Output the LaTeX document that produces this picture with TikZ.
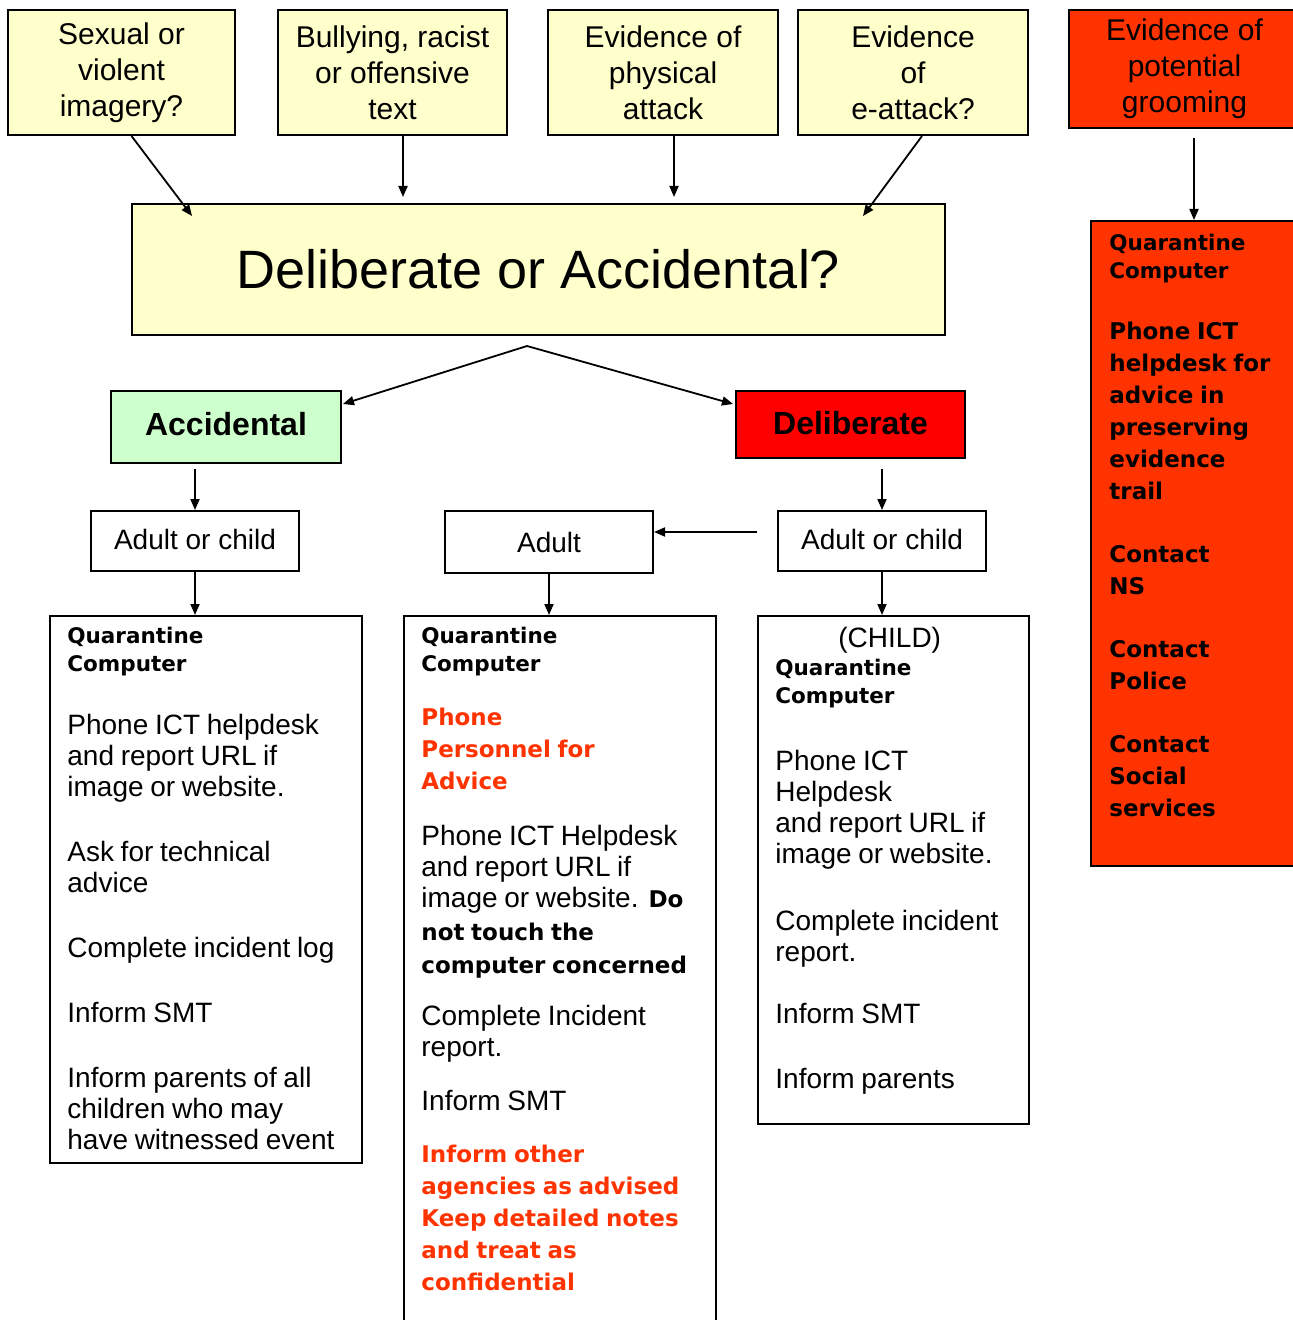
\documentclass[tikz,border=0pt]{standalone}
\usepackage{fontspec}
\setmainfont{Liberation Sans}
\newfontfamily\wide{DejaVu Sans}
\usetikzlibrary{positioning,calc}
\usetikzlibrary{arrows.meta}

\definecolor{paleyellow}{HTML}{FFFFCC}
\definecolor{palegreen}{HTML}{CCFFCC}
\definecolor{groomred}{HTML}{FF3300}
\definecolor{delred}{HTML}{FF0000}

\setlength{\parindent}{0pt}
% font switches for the lists
\newcommand{\qhead}{\wide\bfseries\fontsize{10.75}{14}\selectfont}
\newcommand{\bbody}{\wide\bfseries\fontsize{11.5}{16}\selectfont}
\newcommand{\rbody}{\normalfont\fontsize{14}{15.5}\selectfont}
\newcommand{\pgap}[1]{\par\vspace{#1}}

\tikzset{
   box/.style={draw, line width=1pt, rectangle, inner sep=0pt},
   qbox/.style={box, fill=paleyellow, align=center,
      font=\fontsize{15}{18}\selectfont},
   pick/.style={box, align=center, font=\rbody},
   list/.style={anchor=north west, inner sep=0pt, text width=200pt,
      align=left},
   arr/.style={-{Triangle[length=5.5pt,width=4.5pt]}, line width=0.9pt},
}

\begin{document}
\begin{tikzpicture}[x=0.5pt, y=-0.5pt]
   \useasboundingbox (0,0) rectangle (1293,1320);

   % what was found
   \node[qbox, minimum width=113.5pt, minimum height=62.5pt] (t1)
      at (121.5,72.5) {Sexual or\\violent\\imagery?};
   \node[qbox, minimum width=114.5pt, minimum height=62.5pt] (t2)
      at (392.5,72.5) {Bullying, racist\\or offensive\\text};
   \node[qbox, minimum width=115pt, minimum height=62.5pt] (t3)
      at (663,72.5) {Evidence of\\physical\\attack};
   \node[qbox, minimum width=115pt, minimum height=62.5pt] (t4)
      at (913,72.5) {Evidence\\of\\e-attack?};
   \node[qbox, fill=groomred, minimum width=115.5pt, minimum height=59pt] (t5)
      at (1184.5,69) {Evidence of\\potential\\grooming};

   % main question
   \node[box, fill=paleyellow, minimum width=406.5pt, minimum height=65.5pt,
      font=\fontsize{27}{30}\selectfont] (dq) at (538.5,269.5)
      {Deliberate or Accidental?};

   \node[box, fill=palegreen, minimum width=115pt, minimum height=36pt,
      font=\bfseries\fontsize{16}{18}\selectfont] (acc) at (226,427)
      {\raisebox{3pt}{Accidental}};
   \node[box, fill=delred, minimum width=114.5pt, minimum height=33.5pt,
      font=\bfseries\fontsize{16}{18}\selectfont] (del) at (850.5,424.5)
      {\raisebox{1.5pt}{Deliberate}};

   % who is involved
   \node[pick, minimum width=104pt, minimum height=30pt] (ac1) at (195,541)
      {\raisebox{1.5pt}{Adult or child}};
   \node[pick, minimum width=104pt, minimum height=31pt] (ad) at (549,542) {Adult};
   \node[pick, minimum width=104pt, minimum height=30pt] (ac2) at (882,541)
      {\raisebox{1.5pt}{Adult or child}};

   % what to do
   \node[box, minimum width=156pt, minimum height=273.5pt, anchor=north west]
      (bA) at (49,615) {};
   \node[box, minimum width=156pt, minimum height=357.5pt, anchor=north west]
      (bB) at (403,615) {};
   \node[box, minimum width=135.5pt, minimum height=254pt, anchor=north west]
      (bC) at (757,615) {};
   \node[box, fill=groomred, minimum width=105pt, minimum height=322.5pt,
      anchor=north west] (grb) at (1090,220) {};

   \node[list] (lA) at ([shift={(18,12)}]bA.north west) {%
      \qhead Quarantine\\Computer\pgap{16pt}
      \rbody Phone ICT helpdesk\\and report URL if\\image or website.\pgap{17pt}
      Ask for technical\\advice\pgap{17pt}
      Complete incident log\pgap{17pt}
      Inform SMT\pgap{17pt}
      Inform parents of all\\children who may\\have witnessed event\par};

   \node[list] (lB) at ([shift={(18,12)}]bB.north west) {%
      \qhead Quarantine\\Computer\pgap{11pt}
      \color{groomred}\bbody Phone\\Personnel for\\Advice\pgap{12.5pt}
      \color{black}\rbody Phone ICT Helpdesk\\and report URL if\\image or website.
      {\bbody Do}\\[1pt]{\bbody not touch the}\\[1pt]{\bbody computer concerned}\pgap{10.5pt}
      Complete Incident\\report.\pgap{11.5pt}
      Inform SMT\pgap{10pt}
      \color{groomred}\bbody Inform other\\agencies as advised\\Keep detailed notes\\and treat as\\confidential\par};

   \node[list] (lC) at ([shift={(18,12)}]bC.north west) {%
      {\rbody\hspace*{31.5pt}(CHILD)}\\
      \qhead Quarantine\\Computer\pgap{18pt}
      \rbody Phone ICT\\Helpdesk\\and report URL if\\image or website.\pgap{18pt}
      Complete incident\\report.\pgap{15.5pt}
      Inform SMT\pgap{17pt}
      Inform parents\par};

   \node[list] (lG) at ([shift={(19,14)}]grb.north west) {%
      \qhead Quarantine\\Computer\pgap{14.5pt}
      \bbody Phone ICT\\helpdesk for\\advice in\\preserving\\evidence\\trail\pgap{15.5pt}
      Contact\\NS\pgap{15.5pt}
      Contact\\Police\pgap{15.5pt}
      Contact\\Social\\services\par};

   % arrows
   \draw[arr] ([xshift=5pt]t1.south) -- ([shift={(61,13)}]dq.north west);
   \draw[arr, shorten >=3pt] ([xshift=5.25pt]t2.south)
      -- ([xshift=5.25pt]t2.south |- dq.north);
   \draw[arr, shorten >=3pt] ([xshift=5.5pt]t3.south)
      -- ([xshift=5.5pt]t3.south |- dq.north);
   \draw[arr] ([xshift=4.5pt]t4.south) -- ([shift={(-83,13)}]dq.north east);
   \draw[arr, shorten <=4.5pt] ([xshift=4.75pt]t5.south)
      -- ([xshift=4.75pt]t5.south |- grb.north);

   \coordinate (split) at ($(dq.south)+(-11.5,10)$);
   \draw[arr] (split) -- ([shift={(1,14)}]acc.north east);
   \draw[arr] (split) -- ([shift={(-2,14)}]del.north west);

   \draw[arr, shorten <=2.5pt] (ac1.north |- acc.south) -- (ac1.north);
   \draw[arr, shorten <=5pt] (ac2.north |- del.south) -- (ac2.north);
   \draw[arr, shorten <=10pt] ([yshift=4.5pt]ac2.west)
      -- ([yshift=4.5pt]ac2.west -| ad.east);

   \draw[arr] (ac1.south) -- (ac1.south |- bA.north);
   \draw[arr] (ad.south) -- (ad.south |- bB.north);
   \draw[arr] (ac2.south) -- (ac2.south |- bC.north);
\end{tikzpicture}
\end{document}
